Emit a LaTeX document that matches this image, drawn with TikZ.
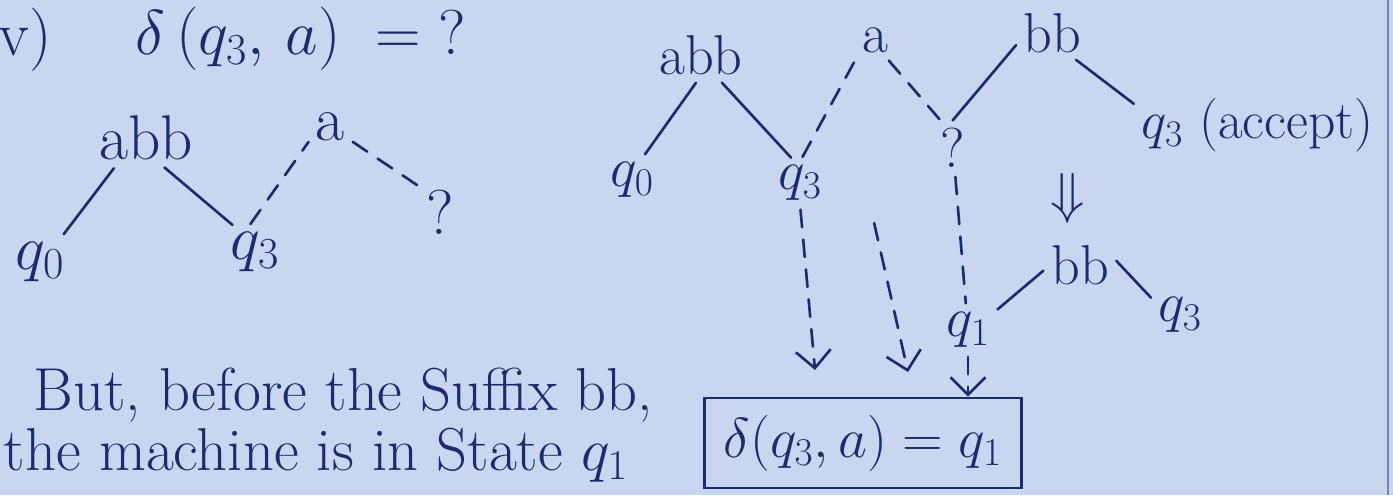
\RequirePackage{fix-cm}
\documentclass[tikz,border=0pt]{standalone}
\usepackage{amsmath}
\usepackage{tikz}
\usetikzlibrary{arrows.meta}
\definecolor{NoteInk}{HTML}{1C2B6E}
\definecolor{NotePaper}{HTML}{C9D6EF}

\begin{document}
\begin{tikzpicture}[
  every node/.style={text=NoteInk,font=\fontsize{32}{38}\selectfont,inner sep=2pt},
  bigword/.style={font=\fontsize{36}{42}\selectfont},
  noteline/.style={anchor=base west,font=\fontsize{34.5}{40}\selectfont},
  treeline/.style={draw=NoteInk,line width=1.5pt,line cap=round,shorten <=3pt,shorten >=3pt},
  guessline/.style={treeline,dash pattern=on 3.5mm off 2.5mm},
  guessarrow/.style={guessline,shorten >=0pt,-{Straight Barb[length=3.5mm,width=7mm]}},
]
  % paper and page edge
  \fill[NotePaper] (0,0) rectangle (27.86,-9.9);
  \useasboundingbox (0,0) rectangle (27.86,-9.9);
  \draw[NoteInk!60,line width=1pt] (27.76,0) -- (27.76,-9.9);

  % question
  \node[bigword] (part) at (0.5,-0.8) {v)};
  \node[bigword] (ask) at (6.02,-0.78) {$\delta\,(q_3,\,a)\;=\;?$};

  % first split of the string
  \node[bigword] (labb) at (2.92,-2.76) {abb};
  \node[bigword] (la) at (6.6,-2.54) {a};
  \node[bigword] (lq0) at (0.8,-5.24) {$q_0$};
  \node[bigword] (lq3) at (5.1,-5.04) {$q_3$};
  \node[bigword] (lqm) at (8.8,-4.24) {?};
  \draw[treeline] (lq0.49) -- (labb.222);
  \draw[treeline] (labb.299) -- (lq3.128);
  \draw[guessline] (lq3.108) -- (la.210);
  \draw[guessline] (la.327) -- (lqm.127);

  % explanation
  \node[noteline] (note1) at (0.6,-8.2) {But, before the Suffix bb,};
  \node[noteline] (note2) at (0,-9.4) {the machine is in State $q_1$};

  % second split, with the accepting suffix
  \node (rabb) at (14.02,-1.1) {abb};
  \node (ra) at (17.5,-0.8) {a};
  \node (rbb) at (21.04,-0.66) {bb};
  \node (rq0) at (12.64,-3.6) {$q_0$};
  \node (rq3) at (16,-3.66) {$q_3$};
  \node (rqm) at (19.06,-2.96) {?};
  \node[anchor=west,font=\fontsize{30.5}{36}\selectfont] (racc) at (22.76,-2.5) {$q_3$ (accept)};
  \draw[treeline] (rq0.65) -- (rabb.265);
  \draw[treeline] (rabb.306) -- (rq3.104);
  \draw[guessline] (rq3.north) -- (ra.221);
  \draw[guessline] (ra.302) -- (rqm.111);
  \draw[treeline] (rqm.99) -- (rbb.194);
  \draw[treeline] (rbb.310) -- ([yshift=3.6mm]racc.west);

  % so bb must start from q1
  \node (rdown) at (21.36,-3.96) {$\Downarrow$};
  \node (sbb) at (21.6,-5.3) {bb};
  \node (sq1) at (19.36,-6.6) {$q_1$};
  \node (sq3) at (23.6,-6.3) {$q_3$};
  \draw[treeline] (sq1.34) -- (sbb.184);
  \draw[treeline] (sbb.14) -- (sq3.152);

  % answer
  \node[draw=NoteInk,line width=1.5pt,minimum width=6.34cm,minimum height=1.8cm] (result) at (17.26,-8.86) {$\delta(q_3,a)=q_1$};
  \coordinate (tipq3) at (16.3,-7.4);
  \coordinate (belowa) at (17.46,-4.36);
  \coordinate (tipa) at (18.16,-7.44);
  \draw[guessarrow] (rq3.south) -- (tipq3);
  \draw[guessarrow] (belowa) -- (tipa);
  \draw[guessline] (rqm) -- (sq1);
  \draw[guessarrow] (sq1) -- (sq1 |- result.north);
\end{tikzpicture}
\end{document}
